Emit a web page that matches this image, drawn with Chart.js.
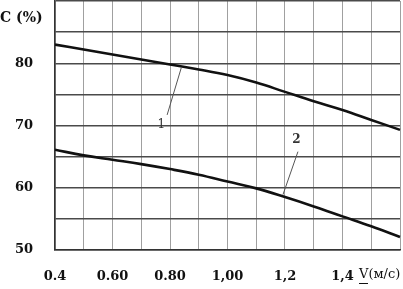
<!DOCTYPE html>
<html><head><meta charset="utf-8">
<script src="https://cdn.jsdelivr.net/npm/chart.js@4/dist/chart.umd.min.js"></script>
<style>html,body{margin:0;padding:0;background:#fff}#wrap{width:403px;height:289px}</style>
</head><body><div id="wrap"><canvas id="c" width="403" height="289"></canvas></div>
<script>
const speeds = [0.4,0.5,0.6,0.7,0.8,0.9,1.0,1.1,1.2,1.3,1.4,1.5,1.6];
const curve1 = [83.0,82.2,81.4,80.6,79.8,79.0,78.1,76.9,75.4,73.9,72.5,70.9,69.3];
const curve2 = [66.1,65.2,64.5,63.8,63.0,62.1,61.0,59.9,58.5,57.0,55.4,53.8,52.1];
const xTickValues = [0.4,0.6,0.8,1.0,1.2,1.4];
const xTickText = ['0.4','0.60','0.80','1,00','1,2','1,4'];
const yTickValues = [50,60,70,80];
const yTickText = ['50','60','70','80'];
const yAxisTitle = 'C (%)';
const xAxisTitle = 'V(м/с)';
const curveNames = ['1','2'];

const serif = '"DejaVu Serif", serif';

const textPlugin = {
  id: 'texts',
  afterDraw(chart) {
    const ctx = chart.ctx, xs = chart.scales.x, ys = chart.scales.y;
    ctx.save();
    ctx.fillStyle = '#111';
    ctx.font = 'bold 14px ' + serif;
    ctx.textAlign = 'left'; ctx.textBaseline = 'middle';
    ctx.fillText(yAxisTitle, 0, 18);
    ctx.font = '13px ' + serif;
    ctx.fillText(xAxisTitle, 359, 275);
    ctx.strokeStyle = '#111'; ctx.lineWidth = 1;
    ctx.beginPath(); ctx.moveTo(359, 283.5); ctx.lineTo(368, 283.5); ctx.stroke();
    // curve labels with leader lines
    ctx.strokeStyle = '#555'; ctx.lineWidth = 1;
    ctx.beginPath();
    ctx.moveTo(xs.getPixelForValue(0.79), ys.getPixelForValue(71.7));
    ctx.lineTo(xs.getPixelForValue(0.84), ys.getPixelForValue(79.4));
    ctx.moveTo(xs.getPixelForValue(1.245), ys.getPixelForValue(65.8));
    ctx.lineTo(xs.getPixelForValue(1.193), ys.getPixelForValue(58.9));
    ctx.stroke();
    ctx.fillStyle = '#333';
    ctx.font = '12px ' + serif;
    ctx.textAlign = 'center';
    ctx.fillText(curveNames[0], xs.getPixelForValue(0.77), ys.getPixelForValue(70.1));
    ctx.font = 'bold 12px ' + serif;
    ctx.fillText(curveNames[1], xs.getPixelForValue(1.24), ys.getPixelForValue(67.7));
    ctx.restore();
  }
};

const mk = (arr) => speeds.map((s, i) => ({x: s, y: arr[i]}));

new Chart(document.getElementById('c'), {
  type: 'line',
  data: {
    datasets: [
      {label: '1', data: mk(curve1), borderColor: '#111', borderWidth: 2.6, pointRadius: 0, tension: 0.4, fill: false, clip: {left: 0, top: 0, right: 4, bottom: 0}},
      {label: '2', data: mk(curve2), borderColor: '#111', borderWidth: 2.6, pointRadius: 0, tension: 0.4, fill: false, clip: {left: 0, top: 0, right: 4, bottom: 0}}
    ]
  },
  options: {
    responsive: false,
    animation: false,
    events: [],
    layout: {padding: {top: 1, right: 3, left: 0, bottom: 0}},
    plugins: {legend: {display: false}, tooltip: {enabled: false}},
    scales: {
      x: {
        type: 'linear', min: 0.4, max: 1.6,
        afterBuildTicks(scale) { scale.ticks = speeds.map(v => ({value: v})); },
        afterFit(scale) { scale.height = 39; scale.paddingLeft = 0; scale.paddingRight = 0; },
        grid: {color: '#a0a0a0', lineWidth: 1, drawTicks: false},
        border: {color: '#333', width: 1.5},
        ticks: {
          autoSkip: false, maxRotation: 0, padding: 19,
          color: '#111', font: {family: serif, size: 13, weight: 'bold'},
          callback(v) {
            const i = xTickValues.findIndex(t => Math.abs(t - v) < 1e-6);
            return i >= 0 ? xTickText[i] : '';
          }
        }
      },
      y: {
        type: 'linear', min: 50, max: 90,
        afterBuildTicks(scale) {
          const t = []; for (let v = 50; v <= 90; v += 5) t.push({value: v});
          scale.ticks = t;
        },
        afterFit(scale) { scale.width = 55; scale.paddingTop = 0; scale.paddingBottom = 0; },
        grid: {color: '#4a4a4a', lineWidth: 1.5, drawTicks: false},
        border: {color: '#333', width: 1.5},
        ticks: {
          autoSkip: false, padding: 22,
          color: '#111', font: {family: serif, size: 13, weight: 'bold'},
          callback(v) {
            const i = yTickValues.indexOf(v);
            return i >= 0 ? yTickText[i] : '';
          }
        }
      }
    }
  },
  plugins: [textPlugin]
});
</script></body></html>
